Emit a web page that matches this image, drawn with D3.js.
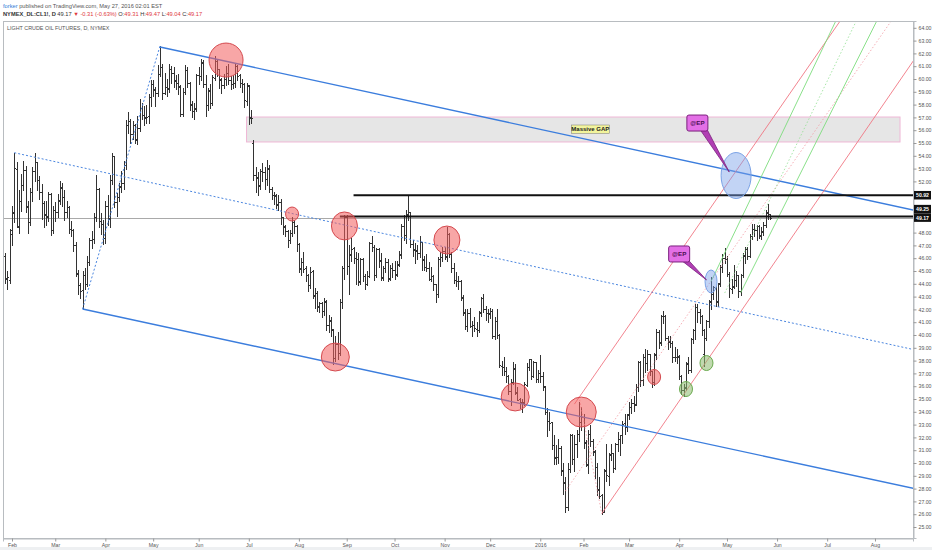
<!DOCTYPE html>
<html><head><meta charset="utf-8">
<script src="https://cdn.jsdelivr.net/npm/d3@7"></script>
<style>
body{margin:0;background:#fff;}
svg{display:block;font-family:"Liberation Sans",Arial,sans-serif;}
</style>
</head><body>
<svg id="chart" width="932" height="550"></svg>
<script>
// ---------------- DATA ----------------
const tradingStart = "2015-01-28";
const calendarEnd = "2016-08-31";
const holidays = ["2015-02-16","2015-04-03","2015-05-25","2015-07-03","2015-09-07","2015-11-26","2015-12-25","2016-01-01","2016-01-18","2016-02-15","2016-03-25"];

// daily OHLC [open, high, low, close]
const ohlc2015 = [
[46.2,46.4,44.1,44.45],[44.4,45.0,43.6,44.53],[44.3,48.3,44.1,48.24],
// Feb
[47.9,50.1,47.0,49.57],[49.6,54.24,48.8,53.05],[53.0,53.5,48.4,48.45],[48.5,51.3,48.0,50.48],[50.5,52.6,49.7,51.69],
[51.7,53.6,51.3,52.86],[52.9,53.2,49.6,50.02],[50.1,50.5,48.0,48.84],[48.8,51.5,48.6,51.21],[51.2,53.1,50.5,52.78],
[52.8,54.2,52.0,53.53],[53.5,53.5,51.3,52.14],[52.1,52.4,50.6,51.16],[51.2,51.8,49.1,50.34],
[50.3,50.5,48.4,49.45],[49.4,50.5,48.6,49.25],[49.3,51.2,48.9,50.99],[51.0,51.1,47.8,48.17],[48.2,50.1,48.0,49.76],
// Mar
[49.8,50.4,48.9,49.59],[49.6,51.0,49.2,50.52],[50.5,52.0,50.2,51.53],[51.5,51.9,50.1,50.76],[50.8,51.3,49.0,49.61],
[49.6,50.5,49.2,50.00],[50.0,50.1,48.0,48.29],[48.3,48.9,47.7,48.17],[48.2,48.3,46.6,47.05],[47.0,47.3,44.6,44.84],
[44.8,45.1,43.2,43.88],[43.9,44.1,42.9,43.46],[43.5,45.0,42.03,44.66],[44.7,45.2,43.6,43.96],[44.0,46.2,43.8,45.72],
[45.7,47.6,45.5,47.45],[47.4,48.1,46.8,47.51],[47.5,49.5,47.2,49.21],[49.2,52.5,48.9,51.43],[51.4,51.5,48.4,48.87],
[48.9,49.5,47.9,48.68],[48.7,49.0,47.1,47.60],
// Apr
[47.6,50.5,47.2,50.09],[50.1,50.9,48.6,49.14],
[49.1,52.5,48.4,52.14],[52.1,54.2,51.8,53.98],[54.0,54.0,50.0,50.42],[50.4,51.1,49.3,50.79],[50.8,51.9,50.5,51.64],
[51.6,52.8,51.2,51.91],[51.9,53.6,51.4,53.29],[53.3,56.8,53.0,56.39],[56.4,57.4,55.8,56.71],[56.7,56.9,55.0,55.74],
[55.7,56.7,55.3,56.38],[56.4,56.5,55.0,55.26],[55.3,57.1,54.9,56.16],[56.2,58.4,55.9,57.74],[57.7,58.1,56.9,57.15],
[57.2,57.9,56.4,56.99],[57.0,58.0,56.6,57.06],[57.1,58.8,56.6,58.58],[58.6,59.9,57.9,59.63],
// May
[59.6,59.9,58.7,59.15],
[59.2,59.4,57.9,58.93],[58.9,61.1,58.7,60.40],[60.4,62.58,60.2,60.93],[60.9,61.2,58.4,58.94],[58.9,60.5,58.8,59.39],
[59.4,60.0,58.7,59.25],[59.3,61.2,59.0,60.75],[60.8,61.0,59.7,60.50],[60.5,60.9,59.4,59.88],[59.9,60.3,59.2,59.69],
[59.7,60.4,58.8,59.43],[59.4,59.5,57.1,57.26],[57.3,59.3,57.1,58.98],[59.0,61.1,58.8,60.72],[60.7,60.9,59.4,59.72],
[59.7,59.8,57.6,58.03],[58.0,58.3,57.0,57.51],[57.5,58.1,56.9,57.68],[57.7,60.4,57.5,60.30],
// Jun
[60.3,60.9,59.6,60.20],[60.2,61.6,59.9,61.26],[61.3,61.5,59.4,59.64],[59.6,60.3,57.1,58.00],[58.0,59.3,57.6,59.13],
[59.1,59.6,57.7,58.14],[58.1,60.3,58.0,60.14],[60.1,61.8,59.9,61.43],[61.4,61.6,60.2,60.77],[60.8,60.8,59.3,59.96],
[60.0,60.1,58.9,59.52],[59.5,60.4,59.3,59.97],[60.0,61.0,59.5,60.45],[60.5,61.2,59.6,59.92],[59.9,60.2,59.2,59.61],
[59.6,60.3,59.3,59.68],[59.7,61.2,59.4,61.01],[61.0,61.1,59.9,60.27],[60.3,60.4,59.4,59.70],[59.7,60.0,59.0,59.63],
[59.6,59.7,57.8,58.33],[58.3,59.7,58.0,59.47],
// Jul
[59.5,59.5,56.5,56.96],[57.0,57.6,56.6,56.93],
[55.0,55.2,52.1,52.53],[52.5,53.1,51.2,52.33],[52.3,52.7,50.9,51.65],[51.7,53.0,51.4,52.78],[52.8,53.4,52.0,52.74],
[52.7,53.1,51.4,52.20],[52.2,53.7,51.7,53.04],[53.0,53.3,51.2,51.41],[51.4,51.6,50.6,50.91],[50.9,51.2,50.2,50.89],
[50.9,51.0,49.9,50.15],[50.2,50.9,49.8,50.36],[50.4,50.6,48.7,49.19],[49.2,49.2,47.9,48.45],[48.5,48.6,47.7,48.14],
[48.1,48.2,46.9,47.39],[47.4,48.2,47.2,47.98],[48.0,49.2,47.7,48.79],[48.8,49.0,48.0,48.52],[48.5,48.6,46.6,47.12],
// Aug
[47.1,47.2,44.9,45.17],[45.2,46.0,44.7,45.74],[45.7,46.5,44.9,45.15],[45.2,45.4,44.2,44.66],[44.7,44.8,43.4,43.87],
[43.9,45.3,43.7,44.96],[45.0,45.1,42.9,43.08],[43.1,43.7,42.1,43.30],[43.3,43.4,41.9,42.23],[42.2,42.6,41.8,42.50],
[42.5,42.6,41.4,41.87],[41.9,42.9,41.6,42.62],[42.6,42.7,40.4,40.80],[40.8,41.6,40.2,41.14],[41.1,41.4,39.9,40.45],
[40.4,40.5,37.75,38.24],[38.2,39.9,38.0,39.31],[39.3,40.2,38.1,38.60],[38.6,42.8,38.4,42.56],[42.6,45.4,42.1,45.22],
[45.2,49.35,44.4,49.20],
// Sep
[49.2,49.4,44.8,45.41],[45.4,47.0,43.2,46.25],[46.3,47.6,45.8,46.75],[46.8,46.9,45.6,46.05],
[46.0,46.5,44.0,45.94],[45.9,46.4,43.9,44.15],[44.2,46.0,44.0,45.92],[45.9,46.0,44.2,44.63],
[44.6,44.8,43.6,44.00],[44.0,45.0,43.9,44.59],[44.6,47.3,44.5,47.15],[47.2,47.7,46.6,46.90],[46.9,47.0,44.3,44.68],
[44.7,46.8,44.5,46.68],[46.7,46.8,45.3,45.83],[45.8,46.4,44.3,44.48],[44.5,45.4,44.3,45.22],[45.2,46.0,44.9,45.70],
[45.7,45.9,44.2,44.43],[44.4,45.5,44.3,45.23],[45.2,45.6,44.5,45.09],
// Oct
[45.1,45.8,44.4,44.74],[44.7,45.8,44.6,45.54],
[45.5,46.6,45.4,46.26],[46.3,48.7,46.0,48.53],[48.5,49.4,47.4,47.81],[47.8,49.8,47.2,49.43],[49.4,50.92,49.0,49.63],
[49.6,49.6,46.9,47.10],[47.1,47.4,46.2,46.66],[46.7,47.2,45.6,46.64],[46.6,47.0,45.9,46.38],[46.4,47.7,46.1,47.26],
[47.3,47.3,45.1,45.89],[45.9,46.2,45.1,45.29],[45.3,46.3,45.0,45.20],[45.2,45.7,44.3,44.38],[44.4,45.3,44.2,44.60],
[44.6,44.7,43.5,43.98],[44.0,44.0,42.6,43.20],[43.2,46.1,43.0,45.94],[45.9,46.5,45.4,46.06],[46.1,46.9,45.8,46.59],
// Nov
[46.6,46.9,45.9,46.14],[46.1,48.4,45.8,47.90],[47.9,48.0,46.1,46.32],[46.3,46.5,44.9,45.20],[45.2,45.6,44.1,44.29],
[44.3,44.9,43.8,44.21],[44.2,44.6,43.6,44.21],[44.2,44.3,42.7,42.93],[42.9,43.1,41.6,41.75],[41.8,42.0,40.5,40.74],
[40.7,42.0,40.3,41.74],[41.7,42.1,40.6,40.67],[40.7,41.1,39.9,40.75],[40.8,41.4,40.3,40.54],[40.5,41.0,39.9,40.39],
[40.4,41.9,40.2,41.75],[41.8,43.0,41.5,42.87],[42.9,43.2,41.8,42.04],[42.0,42.3,41.2,41.71],
[41.7,42.0,41.0,41.65],
// Dec
[41.7,42.1,41.3,41.85],[41.9,42.0,39.8,39.94],[39.9,41.4,39.7,41.08],[41.1,42.0,39.8,39.97],
[40.0,40.1,37.5,37.65],[37.6,38.0,36.9,37.51],[37.5,38.3,36.9,37.16],[37.2,37.5,36.3,36.76],[36.8,36.9,35.4,35.62],
[35.6,36.6,34.5,36.31],[36.3,37.9,36.2,37.35],[37.4,37.7,35.4,35.52],[35.5,35.9,34.9,34.95],[35.0,35.1,34.3,34.73],
[34.7,35.0,33.98,34.74],[34.7,36.3,34.5,36.14],[36.1,37.8,36.0,37.50],[37.5,38.1,37.3,38.10],
[38.1,38.1,36.6,36.81],[36.8,38.0,36.7,37.87],[37.9,37.9,36.3,36.60],[36.6,37.3,36.3,37.04]
];
const ohlc2016 = [
// Jan
[37.0,38.4,36.3,36.76],[36.8,37.1,35.7,35.97],[36.0,36.0,33.8,33.97],[34.0,34.3,32.1,33.27],[33.3,34.0,32.6,33.16],
[33.2,33.2,31.1,31.41],[31.4,32.2,29.9,30.44],[30.4,31.4,29.9,30.48],[30.5,31.9,30.0,31.20],[31.2,31.3,29.1,29.42],
[29.4,30.0,27.6,28.46],[28.5,28.9,26.19,26.55],[26.6,30.0,26.3,29.53],[29.5,32.3,29.3,32.19],
[32.2,32.3,29.9,30.34],[30.3,32.2,29.4,31.45],[31.5,32.6,30.5,32.30],[32.3,34.8,31.7,33.22],[33.2,34.4,32.6,33.62],
// Feb
[33.6,33.8,31.2,31.62],[31.6,31.8,29.8,29.88],[29.9,32.6,29.2,32.28],[32.3,33.0,31.3,31.72],[31.7,31.9,30.6,30.89],
[30.9,31.0,28.8,29.69],[29.7,30.0,27.5,27.94],[27.9,28.9,27.3,27.45],[27.5,27.6,26.05,26.21],[26.2,29.5,26.2,29.44],
[29.4,31.5,28.6,29.04],[29.0,30.8,28.3,30.66],[30.7,31.5,30.2,30.77],[30.8,30.8,29.3,29.64],
[29.6,31.6,29.5,31.48],[31.5,32.4,30.9,31.87],[31.9,32.2,30.6,32.15],[32.2,33.3,31.6,33.07],[33.1,33.8,32.3,32.78],
[32.8,33.8,32.5,33.75],
// Mar
[33.8,34.8,33.4,34.40],[34.4,35.0,33.9,34.66],[34.7,35.2,34.1,34.57],[34.6,36.2,34.5,35.92],
[35.9,38.0,35.6,37.90],[37.9,38.0,36.0,36.50],[36.5,38.5,36.1,38.29],[38.3,38.9,37.1,37.84],[37.8,38.8,37.3,38.50],
[38.5,38.5,36.9,37.18],[37.2,37.2,35.9,36.34],[36.3,38.6,36.1,38.46],[38.5,40.5,38.1,40.20],[40.2,40.4,39.0,39.44],
[39.4,41.6,39.2,41.52],[41.5,41.9,40.9,41.45],[41.5,41.6,39.6,39.79],[39.8,39.9,38.9,39.46],
[39.5,39.9,39.1,39.39],[39.4,39.5,37.9,38.28],[38.3,39.1,38.0,38.32],[38.3,38.9,37.8,38.34],
// Apr
[38.3,38.4,36.6,36.79],
[36.8,36.9,35.4,35.70],[35.7,36.2,35.2,35.89],[35.9,37.9,35.7,37.75],[37.8,38.3,37.0,37.26],[37.3,39.8,37.1,39.72],
[39.7,40.5,39.4,40.36],[40.4,42.4,39.7,42.17],[42.2,42.4,41.0,41.76],[41.8,42.0,40.9,41.50],[41.5,41.6,40.0,40.36],
[38.5,40.5,37.61,39.78],[39.8,41.2,39.6,41.08],[41.1,42.7,40.6,42.63],[42.6,44.5,42.0,43.18],[43.2,43.8,42.8,43.73],
[43.7,43.8,42.3,42.64],[42.6,44.1,42.3,44.04],[44.0,45.5,43.8,45.33],[45.3,46.3,44.9,46.03],[46.0,46.8,45.6,45.92],
// May
[45.9,46.2,44.6,44.78],[44.8,44.9,43.0,43.65],[43.6,44.4,43.3,43.78],[43.8,45.5,43.7,44.32],[44.3,45.0,43.8,44.66],
[44.7,44.7,43.0,43.44],[43.4,44.8,43.1,44.66],[44.7,46.4,44.5,46.23],[46.2,46.9,45.6,46.70],[46.7,46.9,45.9,46.21],
[46.2,47.9,46.1,47.72],[47.7,48.7,47.5,48.31],[48.3,48.7,47.7,48.19],[48.2,48.6,47.4,48.49],[48.5,48.6,47.6,47.75],
[47.8,48.4,47.5,48.08],[48.1,48.8,47.8,48.62],[48.6,49.8,48.4,49.56],[49.6,50.21,49.1,49.48],[49.31,49.47,49.04,49.17]
];

const lastPrice = 49.17;
const priceTicks = [25,26,27,28,29,30,31,32,33,34,35,36,37,38,39,40,41,42,43,44,45,46,47,48,49,50,51,52,53,54,55,56,57,58,59,60,61,62,63,64];
const monthTicks = [["2015-02","Feb"],["2015-03","Mar"],["2015-04","Apr"],["2015-05","May"],["2015-06","Jun"],["2015-07","Jul"],["2015-08","Aug"],["2015-09","Sep"],["2015-10","Oct"],["2015-11","Nov"],["2015-12","Dec"],["2016-01","2016"],["2016-02","Feb"],["2016-03","Mar"],["2016-04","Apr"],["2016-05","May"],["2016-06","Jun"],["2016-07","Jul"],["2016-08","Aug"]];

// drawings (date, price)
const trendLines = [
  {a:["2015-05-06",62.5], b:["2016-08-23",49.79], kind:"blue", ray:true},
  {a:["2015-03-18",42.03], b:["2016-08-23",28.05], kind:"blue", ray:true},
  {a:["2015-02-03",54.24], b:["2016-08-23",38.9], kind:"blueDot", ray:true},
  {a:["2015-03-18",42.03], b:["2015-05-06",62.58], kind:"blueDot", ray:false},
  {a:["2016-02-11",26.05], b:["2016-08-22",60.94], kind:"red", ray:true},
  {a:["2016-01-26",34.6], b:["2016-07-11",64.61], kind:"red", ray:true},
  {a:["2016-01-20",27.8], b:["2016-08-10",64.5], kind:"redDot", ray:true},
  {a:["2016-01-28",35.2], b:["2016-02-11",26.05], kind:"redDot", ray:false},
  {a:["2016-04-21",44.18], b:["2016-07-07",64.61], kind:"green", ray:true},
  {a:["2016-04-29",43.28], b:["2016-07-20",64.61], kind:"greenDot", ray:true},
  {a:["2016-05-10",43.3], b:["2016-08-02",64.61], kind:"green", ray:true}
];
const hLines = [
  {d:"2015-09-04", p:50.92},
  {d:"2015-08-27", p:49.25}
];
const gapZone = {d1:"2015-06-30", d2:"2016-08-16", p1:57.03, p2:55.08, text:"Massive GAP", labelD:"2016-02-04", labelP:56.17};
const circles = [
  {d:"2015-06-17", p:61.48, rx:17, ry:17, kind:"red"},
  {d:"2015-07-29", p:49.45, rx:6.5, ry:7, kind:"red"},
  {d:"2015-08-31", p:48.52, rx:13, ry:14, kind:"red"},
  {d:"2015-08-25", p:38.28, rx:14, ry:14, kind:"red"},
  {d:"2015-11-03", p:47.42, rx:13, ry:14, kind:"red"},
  {d:"2015-12-16", p:35.16, rx:14, ry:14, kind:"red"},
  {d:"2016-01-29", p:33.98, rx:15, ry:15, kind:"red"},
  {d:"2016-03-16", p:36.72, rx:6.5, ry:7.5, kind:"red"},
  {d:"2016-04-06", p:35.78, rx:6.5, ry:7.5, kind:"green"},
  {d:"2016-04-19", p:37.81, rx:6.5, ry:7.5, kind:"green"},
  {d:"2016-05-06", p:52.46, rx:15, ry:23, kind:"blue"},
  {d:"2016-04-21", p:44.18, rx:6, ry:11.5, kind:"blue"}
];
const callouts = [
  {text:"@EP", d:"2016-04-13", p:56.56, tipD:"2016-05-03", tipP:52.73},
  {text:"@EP", d:"2016-04-01", p:46.33, tipD:"2016-04-19", tipP:44.3}
];
const header1 = ["forker", " published on TradingView.com, May 27, 2016 02:01 EST"];
const header2 = [["NYMEX_DL:CL1!, D","b"],[" 49.17 ","n"],["\u25BC -0.31 (-0.63%)","r"],[" O:","n"],["49.31","r"],[" H:","n"],["49.47","r"],[" L:","n"],["49.04","r"],[" C:","n"],["49.17","r"]];
const chartTitle = "LIGHT CRUDE OIL FUTURES, D, NYMEX";

// ---------------- LAYOUT ----------------
const W = 932, H = 550;
const L = 3, R = 913, T = 21, B = 538;
const svg = d3.select("#chart");

const days = [];
{
  let d = new Date(tradingStart + "T00:00:00Z");
  const end = new Date(calendarEnd + "T00:00:00Z");
  while (d <= end) {
    const wd = d.getUTCDay(), s = d.toISOString().slice(0,10);
    if (wd !== 0 && wd !== 6 && !holidays.includes(s)) days.push(s);
    d = new Date(d.getTime() + 86400000);
  }
}
const dayIndex = new Map(days.map((s,i)=>[s,i]));
const di = s => dayIndex.has(s) ? dayIndex.get(s) : d3.bisectLeft(days, s);

const barStep = 2.277;
const x = d3.scaleLinear().domain([3 - (12 - L)/barStep, 3 + (R - 12)/barStep]).range([L, R]);
const y = d3.scaleLinear().domain([40 - (B - 335)/12.8, 40 + (335 - T)/12.8]).range([B, T]);

const bars = ohlc2015.concat(ohlc2016).map((r,i)=>({i, o:r[0], h:r[1], l:r[2], c:r[3]}));

svg.append("rect").attr("width", W).attr("height", H).attr("fill", "#ffffff");
svg.append("rect").attr("x", 0).attr("y", H-3).attr("width", W).attr("height", 3).attr("fill", "#eef0f2");

// header
const h1 = svg.append("text").attr("x", 3).attr("y", 7.5).attr("font-size", 5.7).attr("fill", "#555");
h1.append("tspan").attr("fill", "#2f7ad6").text(header1[0]);
h1.append("tspan").text(header1[1]);
const h2 = svg.append("text").attr("x", 3).attr("y", 16).attr("font-size", 5.7).attr("fill", "#333");
header2.forEach(([t,k]) => h2.append("tspan").attr("font-weight", k==="b" ? "bold" : null)
  .attr("fill", k==="r" ? "#e0393e" : "#333").text(t));

// frame
svg.append("rect").attr("x", L+0.5).attr("y", T+0.5).attr("width", R-L).attr("height", B-T)
  .attr("fill", "#fff").attr("stroke", "#b8bcc0").attr("stroke-width", 1);
svg.append("text").attr("x", 7).attr("y", 30).attr("font-size", 5.4).attr("fill", "#555").text(chartTitle);

svg.append("defs").append("clipPath").attr("id", "plotclip")
  .append("rect").attr("x", L+1).attr("y", T+1).attr("width", R-L-1).attr("height", B-T-1);
const plot = svg.append("g").attr("clip-path", "url(#plotclip)");

// gap zone
plot.append("rect")
  .attr("x", x(di(gapZone.d1))).attr("y", y(gapZone.p1))
  .attr("width", x(di(gapZone.d2)) - x(di(gapZone.d1)))
  .attr("height", y(gapZone.p2) - y(gapZone.p1))
  .attr("fill", "#e6e6e6").attr("stroke", "#efb7d6").attr("stroke-width", 1);

// last price line
plot.append("line").attr("x1", L).attr("x2", R)
  .attr("y1", Math.round(y(lastPrice))+0.5).attr("y2", Math.round(y(lastPrice))+0.5)
  .attr("stroke", "#a9a9a9").attr("stroke-width", 1);

// bars
const cx = i => Math.round(x(i)) + 0.5;
const cy = p => Math.round(y(p)) + 0.5;
plot.append("g").selectAll("path").data(bars).join("path")
  .attr("d", b => `M${cx(b.i)},${cy(b.h)-0.5}V${cy(b.l)+0.5}M${cx(b.i)-1.5},${cy(b.o)}H${cx(b.i)}M${cx(b.i)},${cy(b.c)}H${cx(b.i)+1.5}`)
  .attr("stroke", "#333").attr("stroke-width", 1).attr("fill", "none");

// trend lines
const lineStyle = {
  blue: {stroke:"#3b7ddd", w:1.4, dash:null},
  blueDot: {stroke:"#4b86df", w:1, dash:"2,2"},
  red: {stroke:"#f07682", w:0.9, dash:null},
  redDot: {stroke:"#f29aa3", w:0.8, dash:"1.5,2"},
  green: {stroke:"#7ddc7d", w:0.9, dash:null},
  greenDot: {stroke:"#92e092", w:0.8, dash:"1.5,2"}
};
const iEnd = x.domain()[1] + 2;
plot.append("g").selectAll("line").data(trendLines).join("line")
  .each(function(t){
    const i1 = di(t.a[0]), p1 = t.a[1], i2 = di(t.b[0]), p2 = t.b[1];
    let ie = i2, pe = p2;
    if (t.ray) { ie = iEnd; pe = p1 + (p2 - p1) / (i2 - i1) * (iEnd - i1); }
    const st = lineStyle[t.kind];
    d3.select(this).attr("x1", x(i1)).attr("y1", y(p1)).attr("x2", x(ie)).attr("y2", y(pe))
      .attr("stroke", st.stroke).attr("stroke-width", st.w).attr("stroke-dasharray", st.dash);
  });

// horizontal black lines
plot.append("g").selectAll("line").data(hLines).join("line")
  .attr("x1", d => x(di(d.d))).attr("x2", R)
  .attr("y1", d => y(d.p)).attr("y2", d => y(d.p))
  .attr("stroke", "#111").attr("stroke-width", 2);

// circles
const circStyle = {
  red: {fill:"rgba(242,92,92,0.55)", stroke:"#d44a4f"},
  green: {fill:"rgba(140,185,110,0.55)", stroke:"#6aaa4e"},
  blue: {fill:"rgba(120,160,232,0.45)", stroke:"#7aa2e6"}
};
plot.append("g").selectAll("ellipse").data(circles).join("ellipse")
  .attr("cx", d => x(di(d.d))).attr("cy", d => y(d.p))
  .attr("rx", d => d.rx).attr("ry", d => d.ry)
  .attr("fill", d => circStyle[d.kind].fill).attr("stroke", d => circStyle[d.kind].stroke).attr("stroke-width", 1);

// gap label
{
  const gx = x(di(gapZone.labelD)), gy = y(gapZone.p1 - (gapZone.p1 - gapZone.p2)/2);
  const g = plot.append("g");
  g.append("rect").attr("x", gx-19).attr("y", gy-4.5).attr("width", 38).attr("height", 8.5)
    .attr("fill", "#f2f49c").attr("stroke", "#777").attr("stroke-width", 0.5);
  g.append("text").attr("x", gx).attr("y", gy+2).attr("text-anchor", "middle")
    .attr("font-size", 6).attr("font-weight", "bold").attr("fill", "#222").text(gapZone.text);
}

// callouts
callouts.forEach(c => {
  const bx = x(di(c.d)), by = y(c.p), tx = x(di(c.tipD)), ty = y(c.tipP);
  const w = 21, h = 16;
  const g = plot.append("g");
  g.append("path").attr("d", `M${bx+3},${by+h/2-1}L${bx+10},${by+h/2-1}L${tx},${ty}Z`)
    .attr("fill", "#b13fb4").attr("stroke", "#7a217d").attr("stroke-width", 0.8);
  g.append("rect").attr("x", bx-w/2).attr("y", by-h/2).attr("width", w).attr("height", h).attr("rx", 2)
    .attr("fill", "#e36fe6").attr("stroke", "#7a217d").attr("stroke-width", 1);
  g.append("text").attr("x", bx).attr("y", by+2.3).attr("text-anchor", "middle")
    .attr("font-size", 6.2).attr("font-weight", "bold").attr("fill", "#4a1050").text(c.text);
});

// price labels on axis (computed first, so overlapping tick labels are hidden as in TradingView)
const labels = hLines.map(d => ({p:d.p})).concat([{p:lastPrice}]).map(d => ({p:d.p, yy:y(d.p)}));
labels.sort((a,b) => b.yy - a.yy);
const bh = 8.5;
for (let k = 1; k < labels.length; k++) {
  if (labels[k-1].yy - labels[k].yy < bh) labels[k].yy = labels[k-1].yy - bh;
}
const visibleTicks = priceTicks.filter(v => labels.every(l => Math.abs(y(v) - l.yy) > bh/2 + 3.2));

// right axis
const yAxis = d3.axisRight(y).tickValues(visibleTicks).tickFormat(d3.format(".2f")).tickSize(3).tickPadding(2);
const ya = svg.append("g").attr("transform", `translate(${R+0.5},0)`).call(yAxis);
ya.select(".domain").attr("stroke", "#b8bcc0");
ya.selectAll(".tick line").attr("stroke", "#999");
ya.selectAll("text").attr("font-size", 5.2).attr("fill", "#555").attr("font-family", "Liberation Sans, Arial, sans-serif");

// bottom axis
const monthIdx = monthTicks.map(([m,l]) => ({i: days.findIndex(s => s.startsWith(m)), l}));
const xAxis = d3.axisBottom(x).tickValues(monthIdx.map(d => d.i))
  .tickFormat((v,k) => monthIdx[k].l).tickSize(3).tickPadding(2);
const xa = svg.append("g").attr("transform", `translate(0,${B+0.5})`).call(xAxis);
xa.select(".domain").attr("stroke", "#b8bcc0");
xa.selectAll(".tick line").attr("stroke", "#999");
xa.selectAll("text").attr("font-size", 5.2).attr("fill", "#555").attr("font-family", "Liberation Sans, Arial, sans-serif");

const lg = svg.append("g");
labels.forEach(d => {
  lg.append("rect").attr("x", R+1).attr("y", d.yy - bh/2).attr("width", 17).attr("height", bh).attr("fill", "#111");
  lg.append("text").attr("x", R+9.5).attr("y", d.yy + 2).attr("text-anchor", "middle")
    .attr("font-size", 5.2).attr("font-weight", "bold").attr("fill", "#fff").text(d3.format(".2f")(d.p));
});
</script>
</body></html>
